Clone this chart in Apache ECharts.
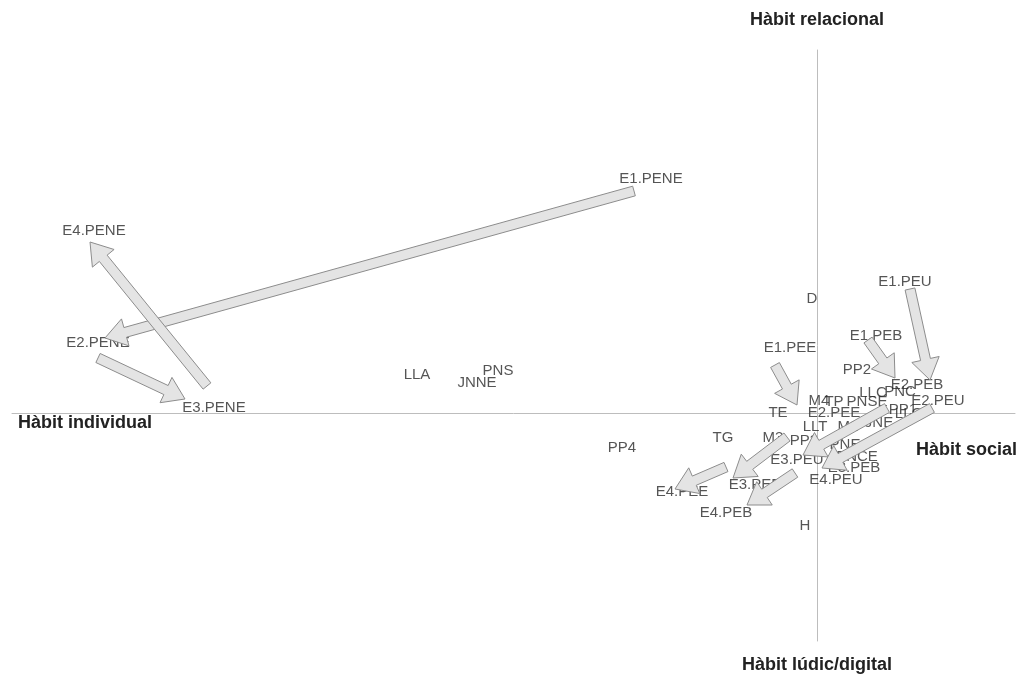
<!DOCTYPE html>
<html><head><meta charset="utf-8">
<script src="https://cdn.jsdelivr.net/npm/echarts@6/dist/echarts.min.js"></script>
<style>html,body{margin:0;padding:0;background:#fff}#c{width:1021px;height:692px}</style>
</head><body><div id="c"></div>
<script>
// point labels (correspondence map coordinates)
const labels = ['E1.PENE','E4.PENE','E2.PENE','E3.PENE','LLA','PNS','JNNE','PP4','D','E1.PEU','E1.PEB','E1.PEE','PP2','E2.PEB','LLC','PNC','E2.PEU','M4','TP','PNSE','TE','E2.PEE','PP1','LLG','LLT','M2','JNE','TG','M3','PP3','PNE','PNCE','E3.PEU','E3.PEB','E4.PEU','E3.PEE','E4.PEE','E4.PEB','H'];
const xs = [-1.66,-7.23,-7.19,-6.03,-4.00,-3.19,-3.40,-1.95,-0.05,0.88,0.59,-0.27,0.40,1.00,0.56,0.83,1.21,0.02,0.17,0.50,-0.39,0.17,0.86,0.92,-0.02,0.31,0.62,-0.94,-0.44,-0.13,0.28,0.40,-0.20,0.37,0.19,-0.62,-1.35,-0.91,-0.12];
const ys = [2.34,1.82,0.70,0.05,0.38,0.42,0.30,-0.35,1.14,1.31,0.77,0.65,0.43,0.28,0.20,0.21,0.12,0.12,0.11,0.11,0.00,0.00,0.03,-0.01,-0.14,-0.14,-0.10,-0.25,-0.25,-0.28,-0.32,-0.44,-0.47,-0.55,-0.67,-0.72,-0.79,-1.00,-1.13];
// trajectory arrows (start -> end)
const arrowX1 = [-1.83,-7.19,-6.10,0.93,0.51,-0.42,0.70,1.15,-0.30,-0.91,-0.22];
const arrowY1 = [2.22,0.55,0.27,1.24,0.73,0.48,0.05,0.05,-0.24,-0.54,-0.60];
const arrowX2 = [-7.12,-6.32,-7.27,1.13,0.78,-0.20,-0.14,0.05,-0.84,-1.42,-0.70];
const arrowY2 = [0.75,0.14,1.71,0.33,0.35,0.08,-0.42,-0.55,-0.65,-0.76,-0.92];
// axis titles
const axisTitles = ['Hàbit relacional','Hàbit individual','Hàbit social','Hàbit lúdic/digital'];

const chart = echarts.init(document.getElementById('c'));
const pts = labels.map((n,i)=>({name:n, value:[xs[i],ys[i]]}));
const arr = arrowX1.map((v,i)=>[v,arrowY1[i],arrowX2[i],arrowY2[i]]);
const FONT = '"Liberation Sans", Arial, Helvetica, sans-serif';
const lineStyle = {color:'#bdbdbd', width:1};
const titleFont = 'bold 18px '+FONT;
chart.setOption({
  animation:false,
  grid:{left:12,right:6,top:50,bottom:51},
  xAxis:{type:'value',min:-8.05,max:1.98,axisLine:{show:true,onZero:true,lineStyle},axisTick:{show:false},axisLabel:{show:false},splitLine:{show:false}},
  yAxis:{type:'value',min:-2.28,max:3.63,axisLine:{show:true,onZero:true,lineStyle},axisTick:{show:false},axisLabel:{show:false},splitLine:{show:false}},
  graphic:[
    {type:'text',x:817,y:11,style:{text:axisTitles[0],font:titleFont,fill:'#222',align:'center'}},
    {type:'text',x:18,y:414,style:{text:axisTitles[1],font:titleFont,fill:'#222'}},
    {type:'text',x:1017,y:441,style:{text:axisTitles[2],font:titleFont,fill:'#222',align:'right'}},
    {type:'text',x:817,y:656,style:{text:axisTitles[3],font:titleFont,fill:'#222',align:'center'}}
  ],
  series:[
    {type:'scatter',z:2,symbolSize:1,itemStyle:{color:'rgba(0,0,0,0)'},silent:true,data:pts,
     label:{show:true,position:'inside',formatter:p=>p.name,color:'#2b2b2b',fontSize:15,fontFamily:FONT}},
    {type:'custom',z:3,silent:true,data:arr,encode:{x:[0,2],y:[1,3]},
     renderItem:function(params,api){
       const p1=api.coord([api.value(0),api.value(1)]);
       const p2=api.coord([api.value(2),api.value(3)]);
       const dx=p2[0]-p1[0], dy=p2[1]-p1[1];
       const len=Math.sqrt(dx*dx+dy*dy); const ux=dx/len, uy=dy/len; const nx=-uy, ny=ux;
       const w=5, h=14, L=21;
       const bx=p2[0]-ux*L, by=p2[1]-uy*L;
       const points=[
         [p1[0]+nx*w,p1[1]+ny*w],[bx+nx*w,by+ny*w],[bx+nx*h,by+ny*h],[p2[0],p2[1]],
         [bx-nx*h,by-ny*h],[bx-nx*w,by-ny*w],[p1[0]-nx*w,p1[1]-ny*w]];
       return {type:'polygon',shape:{points},style:{fill:'#e4e4e4',stroke:'#8c8c8c',lineWidth:1}};
     }}
  ]
});
</script></body></html>
